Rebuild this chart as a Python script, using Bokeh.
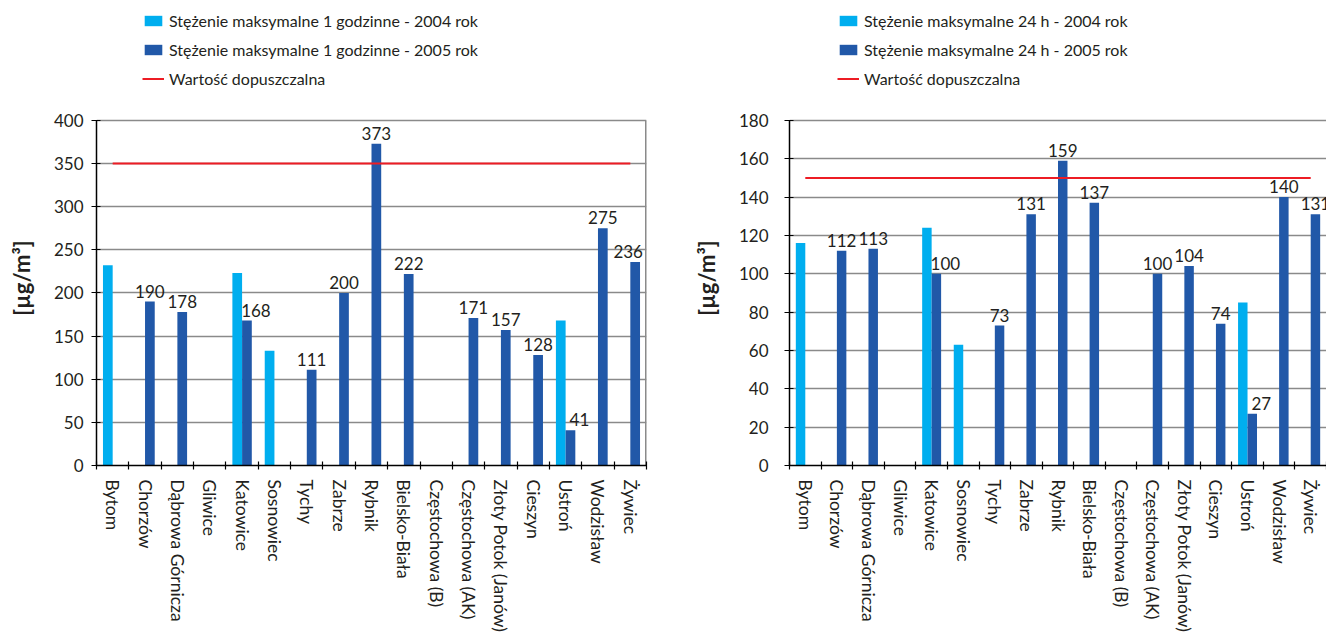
from bokeh.plotting import figure
from bokeh.models import (Range1d, FixedTicker, Legend, LegendItem,
                          ColumnDataSource)
from bokeh.layouts import row, column
from bokeh.embed import file_html
from bokeh.resources import INLINE
from bokeh.core.properties import value

# Measuring stations (x-axis categories)
stations = ["Bytom", "Chorzów", "Dąbrowa Górnicza", "Gliwice", "Katowice",
            "Sosnowiec", "Tychy", "Zabrze", "Rybnik", "Bielsko-Biała",
            "Częstochowa (B)", "Częstochowa (AK)", "Złoty Potok (Janów)",
            "Cieszyn", "Ustroń", "Wodzisław", "Żywiec"]

# Maximum 1-hour concentrations [µg/m³]
max_1h_2004 = [232, None, None, None, 223, 133, None, None, None, None,
               None, None, None, None, 168, None, None]
max_1h_2005 = [None, 190, 178, None, 168, None, 111, 200, 373, 222,
               None, 171, 157, 128, 41, 275, 236]

# Maximum 24-hour concentrations [µg/m³]
max_24h_2004 = [116, None, None, None, 124, 63, None, None, None, None,
                None, None, None, None, 85, None, None]
max_24h_2005 = [None, 112, 113, None, 100, None, 73, 131, 159, 137,
                None, 100, 104, 74, 27, 140, 131]

# Permissible values
limit_1h = 350
limit_24h = 150

y_ticks_1h = [0, 50, 100, 150, 200, 250, 300, 350, 400]
y_ticks_24h = [0, 20, 40, 60, 80, 100, 120, 140, 160, 180]

legend_1h = ["Stężenie maksymalne 1 godzinne - 2004 rok",
             "Stężenie maksymalne 1 godzinne - 2005 rok",
             "Wartość dopuszczalna"]
legend_24h = ["Stężenie maksymalne 24 h - 2004 rok",
              "Stężenie maksymalne 24 h - 2005 rok",
              "Wartość dopuszczalna"]

FONT = "Lato"
TEXT = "#231f20"
LIGHT = "#00aeef"
DARK = "#2158a8"
RED = "#ed1c24"
GRID = "#8a8a8a"
BAR_W = 0.3

HEIGHT = 635
LEGEND_H = 90        # strip holding the legend
BOTTOM_PX = 169      # space for the rotated station names
AXIS_PX = 346        # height of the value axis
HEAD_PX = HEIGHT - LEGEND_H - BOTTOM_PX - AXIS_PX  # free room above the axis


def add_series(p, s04, s05, limit, n):
    r04 = p.vbar(x="x", top="top", bottom=0, width=BAR_W, source=s04,
                 fill_color=LIGHT, line_color=None)
    r05 = p.vbar(x="x", top="top", bottom=0, width=BAR_W, source=s05,
                 fill_color=DARK, line_color=None)
    rl = p.line(x=[0.5, n - 0.5], y=[limit, limit], line_color=RED,
                line_width=2)
    return r04, r05, rl


def make_legend(s04, s05, limit, n, labels, width, x):
    # legend strip: same series, with a y range far above every value so
    # only the legend swatches show
    lf = figure(width=width, height=LEGEND_H, x_range=Range1d(0, n),
                y_range=Range1d(1e6, 1e6 + 1), output_backend="svg",
                toolbar_location=None, x_axis_type=None, y_axis_type=None,
                min_border_left=0, min_border_right=0, min_border_top=0,
                min_border_bottom=0)
    lf.outline_line_color = None
    lf.xgrid.grid_line_color = None
    lf.ygrid.grid_line_color = None
    r04, r05, rl = add_series(lf, s04, s05, limit, n)
    legend = Legend(items=[LegendItem(label=labels[0], renderers=[r04]),
                           LegendItem(label=labels[1], renderers=[r05]),
                           LegendItem(label=labels[2], renderers=[rl])],
                    location=(x, 2), orientation="vertical",
                    glyph_width=22, glyph_height=13, label_standoff=5,
                    label_height=20, spacing=9, padding=0, margin=0,
                    border_line_color=None, background_fill_alpha=0,
                    label_text_font=FONT, label_text_font_size="16px",
                    label_text_color=TEXT)
    lf.add_layout(legend)
    return lf


def make_chart(v04, v05, limit, yticks, labels, border_left, border_right,
               frame_w, tick_standoff, right_rule, legend_x, last_label_dx):
    n = len(stations)
    ymax = yticks[-1]
    y_end = ymax * (AXIS_PX + HEAD_PX) / AXIS_PX
    width = border_left + frame_w + border_right
    p = figure(width=width, height=HEIGHT - LEGEND_H,
               x_range=Range1d(0, n), y_range=Range1d(0, y_end),
               output_backend="svg", toolbar_location=None,
               min_border_left=border_left, min_border_right=border_right,
               min_border_top=0, min_border_bottom=BOTTOM_PX)
    p.background_fill_color = "white"
    p.border_fill_color = "white"
    p.outline_line_color = None

    # bars: 2004 on the left half of each station slot, 2005 on the right
    i04 = [i for i, v in enumerate(v04) if v is not None]
    i05 = [i for i, v in enumerate(v05) if v is not None]
    s04 = ColumnDataSource(dict(x=[i + 0.5 - BAR_W / 2 for i in i04],
                                top=[v04[i] for i in i04]))

    def label_dx(i):
        if i == n - 1:
            return last_label_dx
        return 9 if v04[i] is not None else 0

    s05 = ColumnDataSource(dict(
        x=[i + 0.5 + BAR_W / 2 for i in i05],
        top=[v05[i] for i in i05],
        txt=[str(v05[i]) for i in i05],
        dx=[label_dx(i) for i in i05]))

    if right_rule:
        p.segment(x0=[n], y0=[0], x1=[n], y1=[ymax], line_color=GRID,
                  line_width=3)

    add_series(p, s04, s05, limit, n)

    p.text(x="x", y="top", text="txt", source=s05, x_offset="dx",
           y_offset=-4, text_align="center", text_baseline="bottom",
           text_font=value(FONT), text_font_size="17px", text_color=TEXT)

    # x axis: boundary tick marks, station names centred in each slot
    xa = p.xaxis[0]
    xa.ticker = FixedTicker(ticks=[i + 0.5 for i in range(n)],
                            minor_ticks=list(range(n + 1)))
    xa.major_label_overrides = {i + 0.5: s for i, s in enumerate(stations)}
    xa.major_label_orientation = "vertical"
    xa.major_tick_in = 0
    xa.major_tick_out = 0
    xa.minor_tick_in = 4
    xa.minor_tick_out = 4
    xa.minor_tick_line_color = "black"
    xa.minor_tick_line_width = 1.2
    xa.axis_line_color = "black"
    xa.axis_line_width = 1.5
    xa.major_label_standoff = 10
    xa.major_label_text_font = FONT
    xa.major_label_text_font_size = "17.5px"
    xa.major_label_text_color = TEXT

    ya = p.yaxis[0]
    ya.bounds = (0, ymax)
    ya.ticker = FixedTicker(ticks=yticks)
    ya.major_tick_in = 4
    ya.major_tick_out = 5
    ya.major_tick_line_width = 1.2
    ya.minor_tick_line_color = None
    ya.axis_line_color = "black"
    ya.axis_line_width = 1.5
    ya.major_label_standoff = tick_standoff
    ya.major_label_text_font = FONT
    ya.major_label_text_font_size = "17px"
    ya.major_label_text_color = TEXT
    ya.axis_label = "[µg/m³]"
    ya.axis_label_text_font = FONT
    ya.axis_label_text_font_style = "bold"
    ya.axis_label_text_font_size = "22px"
    ya.axis_label_text_color = TEXT
    ya.axis_label_standoff = 16

    p.xgrid.grid_line_color = None
    p.ygrid.grid_line_color = GRID
    p.ygrid.grid_line_width = 1.5

    lf = make_legend(s04, s05, limit, n, labels, width, legend_x)
    return column(lf, p, spacing=0)


c1 = make_chart(max_1h_2004, max_1h_2005, limit_1h, y_ticks_1h, legend_1h,
                border_left=96, border_right=17, frame_w=550,
                tick_standoff=8, right_rule=True, legend_x=46,
                last_label_dx=-7)
c2 = make_chart(max_24h_2004, max_24h_2005, limit_24h, y_ticks_24h,
                legend_24h, border_left=126, border_right=0, frame_w=537,
                tick_standoff=16, right_rule=False, legend_x=48,
                last_label_dx=0)

layout = row(c1, c2, spacing=0)
open("out.html", "w").write(file_html(layout, INLINE))
